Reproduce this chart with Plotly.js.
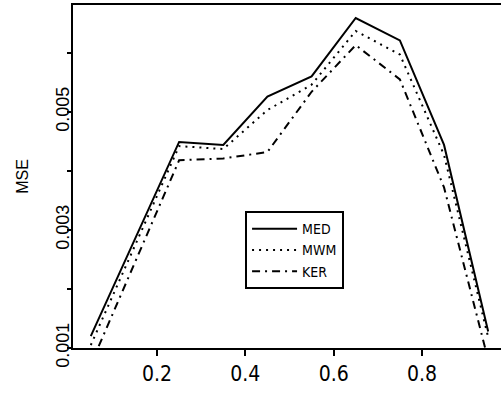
<!DOCTYPE html>
<html>
<head>
<meta charset="utf-8">
<script src="https://cdn.plot.ly/plotly-3.0.1.min.js"></script>
<style>html,body{margin:0;padding:0;background:#fff;}</style>
</head>
<body>
<div id="chart" style="width:501px;height:401px;"></div>
<script>
const xVals = [0.05, 0.25, 0.35, 0.45, 0.55, 0.65, 0.75, 0.85, 0.95];
const medVals = [0.00120, 0.00449, 0.00444, 0.00526, 0.00560, 0.00659, 0.00621, 0.00444, 0.00128];
const mwmVals = [0.00105, 0.00442, 0.00437, 0.00503, 0.00546, 0.00637, 0.00597, 0.00427, 0.00118];
const kerVals = [0.00072, 0.00418, 0.00421, 0.00432, 0.00534, 0.00613, 0.00555, 0.00372, 0.00080];
const seriesNames = ["MED", "MWM", "KER"];
const xTickVals = [0.2, 0.4, 0.6, 0.8];
const xTickText = ["0.2", "0.4", "0.6", "0.8"];
const yTickVals = [0.001, 0.002, 0.003, 0.004, 0.005, 0.006];
const yTickText = ["0.001", "", "0.003", "", "0.005", ""];

const narrow = "'Liberation Sans Narrow', 'DejaVu Sans Condensed', 'Arial Narrow', sans-serif";
const sans = "'Liberation Sans', Arial, sans-serif";

const traces = [
  {x: xVals, y: medVals, name: seriesNames[0], mode: "lines", line: {color: "#000", width: 2, dash: "solid"}},
  {x: xVals, y: mwmVals, name: seriesNames[1], mode: "lines", line: {color: "#000", width: 2, dash: "2px,5px"}},
  {x: xVals, y: kerVals, name: seriesNames[2], mode: "lines", line: {color: "#000", width: 2, dash: "8px,5px,2px,5px"}}
];

const layout = {
  width: 501, height: 401,
  margin: {l: 73, r: 0, t: 5, b: 53, pad: 0},
  paper_bgcolor: "#fff", plot_bgcolor: "#fff",
  showlegend: true,
  legend: {
    x: 0.402, y: 0.399, xanchor: "left", yanchor: "top",
    bordercolor: "#000", borderwidth: 2, bgcolor: "#fff",
    font: {family: narrow, size: 14, color: "#000"},
    itemwidth: 45,
    tracegroupgap: 0
  },
  xaxis: {
    range: [0.0097, 0.979],
    tickmode: "array", tickvals: xTickVals, ticktext: xTickText,
    ticks: "outside", ticklen: 6, tickwidth: 2, tickcolor: "#000",
    showline: true, linecolor: "#000", linewidth: 2, mirror: true,
    showgrid: false, zeroline: false,
    tickfont: {family: narrow, size: 21, color: "#000"}
  },
  yaxis: {
    range: [0.001, 0.00681],
    tickmode: "array", tickvals: yTickVals, ticktext: yTickText,
    ticks: "outside", ticklen: 4, tickwidth: 2, tickcolor: "#000",
    showline: true, linecolor: "#000", linewidth: 2, mirror: false,
    showgrid: false, zeroline: false,
    tickangle: -90,
    ticklabelstandoff: -9,
    tickfont: {family: sans, size: 18, color: "#000"},
    title: {text: "MSE", font: {family: sans, size: 16, color: "#000"}, standoff: 20}
  }
};

Plotly.newPlot("chart", traces, layout, {staticPlot: true, displayModeBar: false});
</script>
</body>
</html>
